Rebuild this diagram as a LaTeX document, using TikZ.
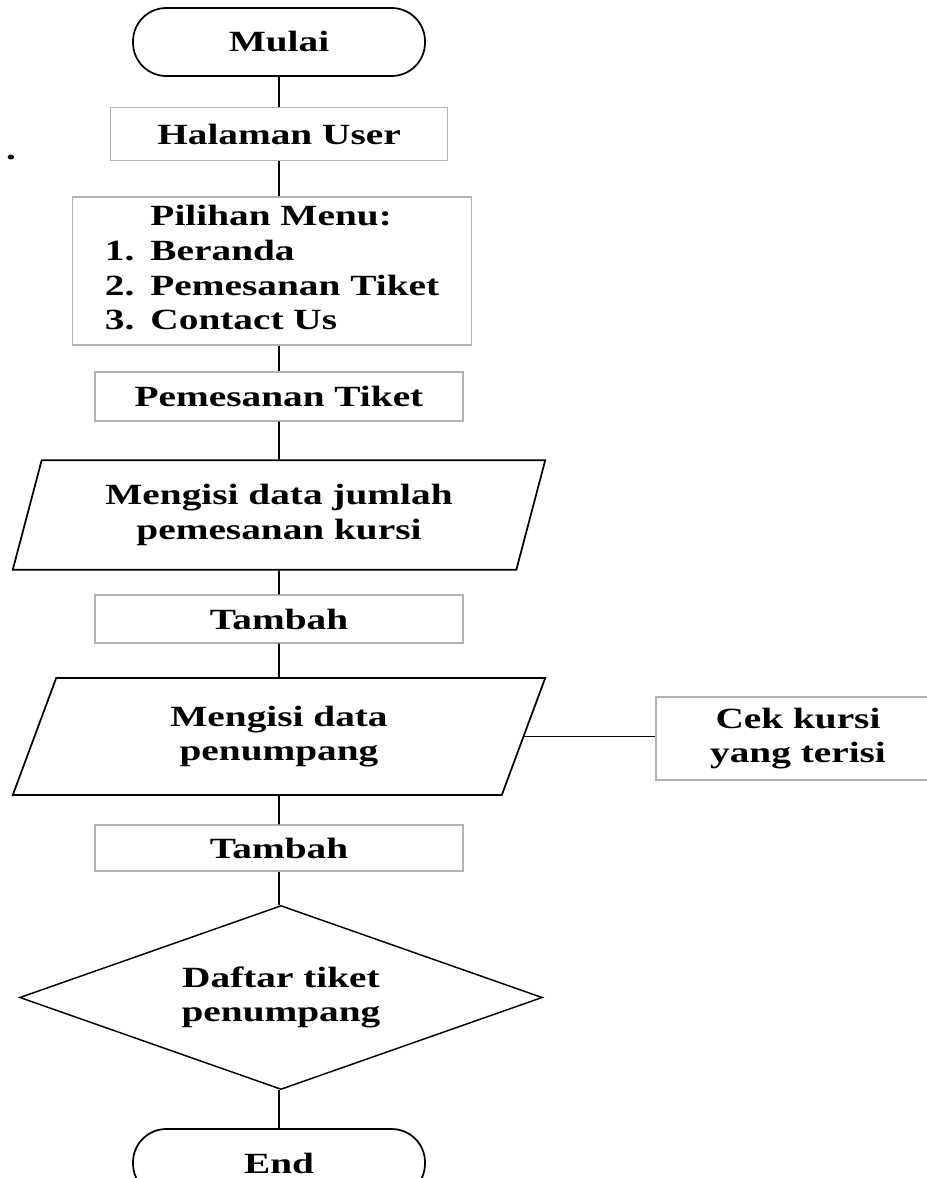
\documentclass[tikz,border=0pt]{standalone}
\usepackage{fontspec}
\setmainfont{Liberation Serif}[FakeStretch=1.34]
\usetikzlibrary{shapes.geometric}

\begin{document}
\begin{tikzpicture}[x=0.75pt,y=0.75pt,yscale=-1,xscale=1,
    every node/.style={font=\fontsize{22}{26}\selectfont\bfseries, inner sep=0pt, align=center},
    terminal/.style={draw, line width=1.3pt, rounded corners=25pt, minimum width=219pt, minimum height=51pt},
    proses/.style={draw=gray!60, line width=1pt},
    inout/.style={draw, line width=1.3pt, trapezium, trapezium left angle=71, trapezium right angle=109, trapezium stretches=true, minimum width=400pt},
    keputusan/.style={draw, line width=1.1pt, diamond, aspect=2.8, minimum width=392pt, minimum height=138pt},
    garis/.style={line width=1.2pt}]
    %set diagram size 927 x 1178
    \useasboundingbox (0,0) rectangle (927,1178);

    %Shape: Terminal
    \node [terminal] (mulai) at (279,42) {Mulai};
    %Shape: Rectangle
    \node [proses, minimum width=252.75pt, minimum height=39.75pt] (user) at (279,134) {Halaman User};
    %Shape: Rectangle
    \node [proses, minimum width=299.25pt, minimum height=111pt] (menu) at (272,271) {%
        \begin{tabular}{@{}r@{\hspace{0.55em}}l@{}}
          & Pilihan Menu:\\
        1. & Beranda\\
        2. & Pemesanan Tiket\\
        3. & Contact Us
        \end{tabular}};
    %Shape: Rectangle
    \node [proses, minimum width=276pt, minimum height=36.75pt] (pesan) at (279,396.5) {Pemesanan Tiket};
    %Shape: Parallelogram
    \node [inout, minimum height=82pt] (isi1) at (279,515) {Mengisi data jumlah\\pemesanan kursi};
    %Shape: Rectangle
    \node [proses, minimum width=276pt, minimum height=36pt] (tambah1) at (279,619) {Tambah};
    %Shape: Parallelogram
    \node [inout, minimum height=87.75pt] (isi2) at (279,736.5) {Mengisi data\\penumpang};
    %Shape: Rectangle
    \node [proses, minimum width=213pt, minimum height=62.25pt] (cek) at (798,738.5) {Cek kursi\\yang terisi};
    %Shape: Rectangle
    \node [proses, minimum width=276pt, minimum height=34.5pt] (tambah2) at (279,848) {Tambah};
    %Shape: Diamond
    \node [keputusan] (daftar) at (281,997.5) {Daftar tiket\\penumpang};
    %Shape: Terminal
    \node [terminal] (selesai) at (279,1163) {End};
    % Text Node
    \node (titik) at (11,158) {.};

    %Straight Lines
    \draw [garis] (mulai) -- (user);
    \draw [garis] (user) -- (user |- menu.north);
    \draw [garis] (pesan |- menu.south) -- (pesan);
    \draw [garis] (pesan) -- (isi1);
    \draw [garis] (isi1) -- (tambah1);
    \draw [garis] (tambah1) -- (isi2);
    \draw [garis] (isi2.east) -- (isi2.east -| cek.west);
    \draw [garis] (isi2) -- (tambah2);
    \draw [garis] (tambah2) -- (tambah2 |- daftar.north);
    \draw [garis] (daftar.south -| selesai) -- (selesai);

\end{tikzpicture}
\end{document}
